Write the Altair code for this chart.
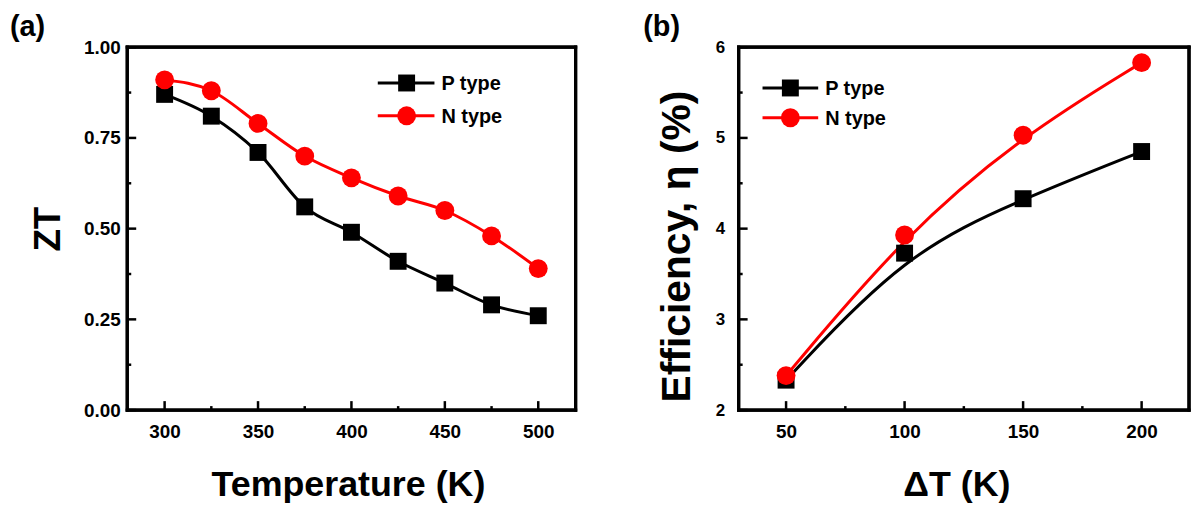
import altair as alt
import pandas as pd

# ---- data ----
series = ["P type", "N type"]
colors = ["#000000", "#ff0000"]
shapes = ["square", "circle"]

temp_K = [300, 325, 350, 375, 400, 425, 450, 475, 500]
zt_p = [0.87, 0.81, 0.71, 0.56, 0.49, 0.41, 0.35, 0.29, 0.26]
zt_n = [0.91, 0.88, 0.79, 0.70, 0.64, 0.59, 0.55, 0.48, 0.39]

dT_K = [50, 100, 150, 200]
eff_p = [2.33, 3.73, 4.33, 4.85]
eff_n = [2.38, 3.93, 5.03, 5.83]

zt_major_x = [300, 350, 400, 450, 500]
zt_minor_x = [325, 375, 425, 475]
zt_major_y = [0.0, 0.25, 0.5, 0.75, 1.0]
zt_minor_y = [0.125, 0.375, 0.625, 0.875]

eff_major_x = [50, 100, 150, 200]
eff_minor_x = [75, 125, 175]
eff_major_y = [2, 3, 4, 5, 6]
eff_minor_y = [2.5, 3.5, 4.5, 5.5]

FONT = "Liberation Sans"
W, H = 451, 365
FW = 1.6  # half frame width
MSIZE = [290, 360]


def make_df(xs, ys_p, ys_n):
    rows = []
    for s, ys in zip(series, [ys_p, ys_n]):
        for x, y in zip(xs, ys):
            rows.append({"x": x, "y": y, "series": s})
    return pd.DataFrame(rows)


def panel(df, xdom, ydom, xmaj, xmin, ymaj, ymin, xtitle, ytitle, yfmt,
          interp, label, ylab_size, ylab_pad, ytitle_x, ytitle_y, ytitle_size,
          xtitle_x, leg_x0, leg_x1, leg_xs, leg_xt, leg_y0, leg_dy, label_x, w):
    xs = alt.Scale(domain=xdom, nice=False, zero=False)
    ys = alt.Scale(domain=ydom, nice=False, zero=False)
    color = alt.Color("series:N", scale=alt.Scale(domain=series, range=colors), legend=None)
    shape = alt.Shape("series:N", scale=alt.Scale(domain=series, range=shapes), legend=None)
    size = alt.Size("series:N", scale=alt.Scale(domain=series, range=MSIZE), legend=None)

    xaxis = alt.Axis(values=xmaj, title=xtitle, ticks=False, domain=False, grid=False,
                     labelFont=FONT, labelFontSize=19, labelFontWeight="bold", labelColor="black",
                     labelPadding=13, labelFlush=False,
                     titleFont=FONT, titleFontSize=36, titleFontWeight="bold", titleColor="black",
                     titleX=xtitle_x, titleY=86, titleBaseline="alphabetic", titleAnchor="middle")
    yaxis = alt.Axis(values=ymaj, title=ytitle, format=yfmt, ticks=False, domain=False, grid=False,
                     labelFont=FONT, labelFontSize=ylab_size, labelFontWeight="bold", labelColor="black",
                     labelPadding=ylab_pad, labelFlush=False,
                     titleFont=FONT, titleFontSize=ytitle_size, titleFontWeight="bold", titleColor="black",
                     titleX=ytitle_x, titleY=ytitle_y, titleBaseline="middle", titleAngle=270,
                     titleAnchor="middle", titleAlign="center")

    X = lambda f: alt.X(f, scale=xs, axis=xaxis)
    Y = lambda f: alt.Y(f, scale=ys, axis=yaxis)

    base = alt.Chart(df)
    lines = base.mark_line(interpolate=interp, strokeWidth=3).encode(
        x=X("x:Q"), y=Y("y:Q"), color=color,
    )
    points = base.mark_point(filled=True, opacity=1).encode(
        x=X("x:Q"), y=Y("y:Q"), color=color, shape=shape, size=size,
    )

    def xticks(vals, ln):
        return alt.Chart(pd.DataFrame({"x": vals})).mark_rule(color="black", strokeWidth=2.5).encode(
            x=X("x:Q"), y=alt.value(H), y2=alt.value(H - ln))

    def yticks(vals, ln):
        return alt.Chart(pd.DataFrame({"y": vals})).mark_rule(color="black", strokeWidth=2.5).encode(
            y=Y("y:Q"), x=alt.value(0), x2=alt.value(ln))

    fdf = pd.DataFrame({"f": [0]})

    def bar(x0, x1, y0, y1):
        return alt.Chart(fdf).mark_rect(color="#000000", opacity=1).encode(
            x=alt.value(x0), x2=alt.value(x1), y=alt.value(y0), y2=alt.value(y1))

    frame = [bar(-FW, w + FW, -FW, FW), bar(-FW, w + FW, H - FW, H + FW),
             bar(-FW, FW, -FW, H + FW), bar(w - FW, w + FW, -FW, H + FW)]

    layers = [lines, points,
              xticks(xmaj, 9), xticks(xmin, 4), yticks(ymaj, 9), yticks(ymin, 4)] + frame

    # legend drawn as line + marker + text
    for i, s in enumerate(series):
        ly = leg_y0 + i * leg_dy
        ldf = pd.DataFrame({"series": [s]})
        lc = alt.Chart(ldf)
        layers.append(lc.mark_rule(color=colors[i], strokeWidth=3).encode(
            x=alt.value(leg_x0), x2=alt.value(leg_x1), y=alt.value(ly)))
        layers.append(lc.mark_point(filled=True, opacity=1, shape=shapes[i], color=colors[i],
                                    size=MSIZE[i]).encode(
            x=alt.value(leg_xs), y=alt.value(ly)))
        layers.append(lc.mark_text(align="left", baseline="middle", font=FONT, fontSize=20,
                                   fontWeight="bold", color="black").encode(
            text="series:N", x=alt.value(leg_xt), y=alt.value(ly + 1)))

    # panel label
    layers.append(alt.Chart(pd.DataFrame({"t": [label]})).mark_text(
        align="left", baseline="alphabetic", font=FONT, fontSize=29, fontWeight="bold",
        color="black").encode(text="t:N", x=alt.value(label_x), y=alt.value(-11)))

    return alt.layer(*layers).properties(width=w, height=H)


left = panel(make_df(temp_K, zt_p, zt_n), [280, 520], [0, 1],
             zt_major_x, zt_minor_x, zt_major_y, zt_minor_y,
             "Temperature (K)", "ZT", ".2f", "monotone", "(a)",
             19, 7, -79, H / 2, 37, 222,
             252, 309, 281, 316, 36, 33, -118, W)

right = panel(make_df(dT_K, eff_p, eff_n), [30, 220], [2, 6],
              eff_major_x, eff_minor_x, eff_major_y, eff_minor_y,
              "ΔT (K)", "Efficiency, η (%)", "d", "basis", "(b)",
              17, 14, -61, 200, 41, 219,
              24, 80, 52, 87, 41, 30, -96, 453)

chart = alt.hconcat(left, right, spacing=62).properties(
    padding={"left": 8, "top": 10, "right": 0, "bottom": 0},
    background="white",
).configure_view(stroke="#000000", strokeWidth=3.2)

chart.save("out.html", embed_options={"renderer": "svg", "actions": False})
